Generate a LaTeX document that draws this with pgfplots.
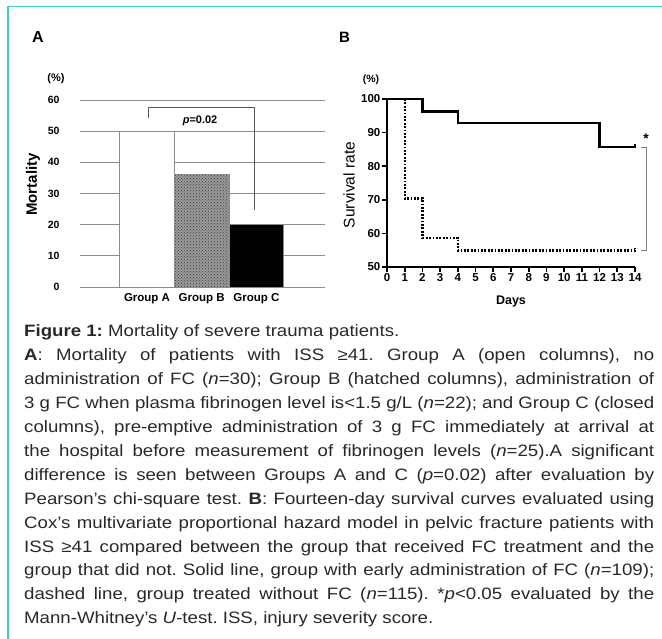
\documentclass[border=0pt]{standalone}
\usepackage{fontspec}
\setmainfont{Liberation Sans}
\newfontfamily\capfont[FakeStretch=1.13]{Liberation Sans}
\usepackage{pgfplots}
\pgfplotsset{compat=1.18}
\usetikzlibrary{patterns}
\definecolor{frame}{RGB}{60,208,190}
\definecolor{txt}{RGB}{40,40,40}
\newcommand\fs[1]{\fontsize{#1}{#1}\selectfont}
\newcommand\capline[2]{\node[anchor=base west,inner sep=0pt,text=txt,font=\capfont\fs{16.5}] at (24,{302-23.9*#1}) {#2};}
\newcommand\capjust[2]{\capline{#1}{\makebox[630pt][s]{#2}}}
\frenchspacing
\begin{document}
\begin{tikzpicture}[x=1pt,y=1pt]
\path[use as bounding box] (0,0) rectangle (662,639);
\draw[frame,line width=1.6pt] (8,0) -- (8,632.5) -- (662,632.5);

% panel A
\node[font=\fs{16}\bfseries] at (38,602) {A};
\node[font=\fs{11}\bfseries] at (56,560) {(\%)};
\node[font=\fs{15}\bfseries,rotate=90] at (33,454.5) {Mortality};
\begin{axis}[at={(80pt,352pt)},anchor=south west,scale only axis,width=245pt,height=187pt,
  xmin=-0.225,xmax=4.254,ymin=0,ymax=60,ytick={0,10,...,60},
  xtick={1,2,3},xticklabels={Group A,Group B,Group C},
  axis line style={draw=none},major tick style={draw=none},
  ymajorgrids,grid style={black!45,line width=0.8pt},
  /pgf/number format/assume math mode=true,
  yticklabel style={font=\fs{10.5}\bfseries,xshift=-17pt},
  xticklabel style={font=\fs{11.5}\bfseries,yshift=-3pt},
  clip=false]
\addplot[ybar,bar width=1,fill=white,draw=black!45,line width=0.8pt] coordinates {(1,50)};
\addplot[ybar,bar width=1,fill=black!40,draw=black!45,line width=0.8pt,
  postaction={pattern=crosshatch dots,pattern color=black!75}] coordinates {(2,36)};
\addplot[ybar,bar width=1,fill=black,draw=black!45,line width=0.8pt] coordinates {(3,20)};
\addplot[black!65,line width=0.9pt] coordinates {(1.02,54.2) (1.02,57.75) (2.956,57.75) (2.956,24.7)};
\node[font=\fs{11}\bfseries] at (axis cs:1.97,53.3) {\textit{p}=0.02};
\end{axis}

% panel B
\node[font=\fs{15}\bfseries] at (344.5,602) {B};
\node[font=\fs{10.5}\bfseries] at (371,559) {(\%)};
\node[font=\fs{15.5},rotate=90] at (349,454) {Survival rate};
\node[font=\fs{12.5}\bfseries] at (511,337) {Days};
\begin{axis}[at={(387pt,372pt)},anchor=south west,scale only axis,width=248pt,height=168pt,
  xmin=0,xmax=14,ymin=50,ymax=100,xtick={0,...,14},ytick={50,60,...,100},
  axis x line=bottom,axis y line=left,axis line style={line width=2.2pt,-},
  tick align=outside,major tick length=5pt,tick style={line width=1.6pt,black},
  /pgf/number format/assume math mode=true,
  ticklabel style={font=\fs{11.5}\bfseries},
  xticklabel style={inner sep=1.5pt},yticklabel style={inner sep=1.5pt},
  clip=false]
\addplot[black,line width=2.2pt] coordinates {(0,100) (2,100) (2,96.3) (4,96.3) (4,92.8) (12,92.8) (12,85.7) (14,85.7) (14,86.6)};
\addplot[black,line width=2.3pt,dash pattern=on 1.8pt off 1.6pt] coordinates {(1,100) (1,70.4) (2,70.4) (2,58.7) (4,58.7) (4,54.9) (14,54.9) (14,55.7)};
\addplot[black!50,line width=0.8pt] coordinates {(14.35,85.7) (14.62,85.7) (14.62,54.9) (14.35,54.9)};
\node[font=\fs{14}\bfseries] at (axis cs:14.62,88.2) {*};
\end{axis}

% caption
\capline{0}{\textbf{Figure 1:} Mortality of severe trauma patients.}
\capjust{1}{\textbf{A}: Mortality of patients with ISS ≥41. Group A (open columns), no}
\capjust{2}{administration of FC (\textit{n}=30); Group B (hatched columns), administration of}
\capjust{3}{3 g FC when plasma fibrinogen level is<1.5 g/L (\textit{n}=22); and Group C (closed}
\capjust{4}{columns), pre-emptive administration of 3 g FC immediately at arrival at}
\capjust{5}{the hospital before measurement of fibrinogen levels (\textit{n}=25).A significant}
\capjust{6}{difference is seen between Groups A and C (\textit{p}=0.02) after evaluation by}
\capjust{7}{Pearson’s chi-square test. \textbf{B}: Fourteen-day survival curves evaluated using}
\capjust{8}{Cox’s multivariate proportional hazard model in pelvic fracture patients with}
\capjust{9}{ISS ≥41 compared between the group that received FC treatment and the}
\capjust{10}{group that did not. Solid line, group with early administration of FC (\textit{n}=109);}
\capjust{11}{dashed line, group treated without FC (\textit{n}=115). *\textit{p}<0.05 evaluated by the}
\capline{12}{Mann-Whitney’s \textit{U}-test. ISS, injury severity score.}
\end{tikzpicture}
\end{document}
